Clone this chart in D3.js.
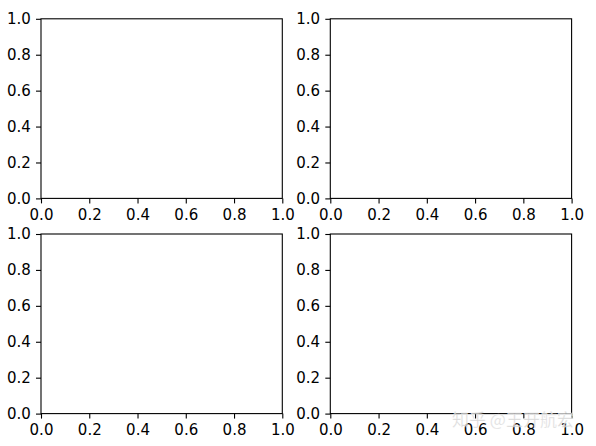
<!DOCTYPE html>
<html><head><meta charset="utf-8">
<script src="https://cdn.jsdelivr.net/npm/d3@7"></script>
<style>body{margin:0;background:#fff}svg{display:block}</style>
</head><body>
<script>
const panels = ["ax1", "ax2", "ax3", "ax4"];
const xDomain = [0, 1];
const yDomain = [0, 1];
const xTicks = [0, 0.2, 0.4, 0.6, 0.8, 1.0];
const yTicks = [0, 0.2, 0.4, 0.6, 0.8, 1.0];
const watermark = "知乎 @王开航宏";

const W = 596, H = 446;
const svg = d3.select("body").append("svg").attr("width", W).attr("height", H);
const lefts = [41, 330.3], widths = 241.3;
const tops = [18.8, 234], heights = 179.6;
const fs = "15px";

panels.forEach((p, i) => {
  const col = i % 2, row = Math.floor(i / 2);
  const x0 = lefts[col], y0 = tops[row];
  const x = d3.scaleLinear().domain(xDomain).range([x0, x0 + widths]);
  const y = d3.scaleLinear().domain(yDomain).range([y0 + heights, y0]);
  const g = svg.append("g");
  g.append("rect").attr("x", x0).attr("y", y0).attr("width", widths).attr("height", heights)
    .attr("fill", "none").attr("stroke", "#000").attr("stroke-width", 1.1);
  const xa = g.append("g").attr("transform", `translate(0,${y0 + heights})`)
    .call(d3.axisBottom(x).tickValues(xTicks).tickFormat(d3.format(".1f")).tickSize(5).tickPadding(5.5));
  const ya = g.append("g").attr("transform", `translate(${x0},0)`)
    .call(d3.axisLeft(y).tickValues(yTicks).tickFormat(d3.format(".1f")).tickSize(5).tickPadding(5.2));
  [xa, ya].forEach(a => {
    a.select(".domain").remove();
    a.selectAll("line").attr("stroke", "#000").attr("stroke-width", 1.1);
    a.selectAll("text").attr("fill", "#000").style("font-family", "DejaVu Sans").style("font-size", fs);
  });
});

svg.append("text").attr("x", 452).attr("y", 426)
  .attr("fill", "#ccc").attr("fill-opacity", 0.8)
  .attr("stroke", "#fff").attr("stroke-width", 0.6).attr("stroke-opacity", 0.6)
  .style("font-family", "Noto Sans CJK SC").style("font-size", "17px")
  .text(watermark);
</script>
</body></html>
